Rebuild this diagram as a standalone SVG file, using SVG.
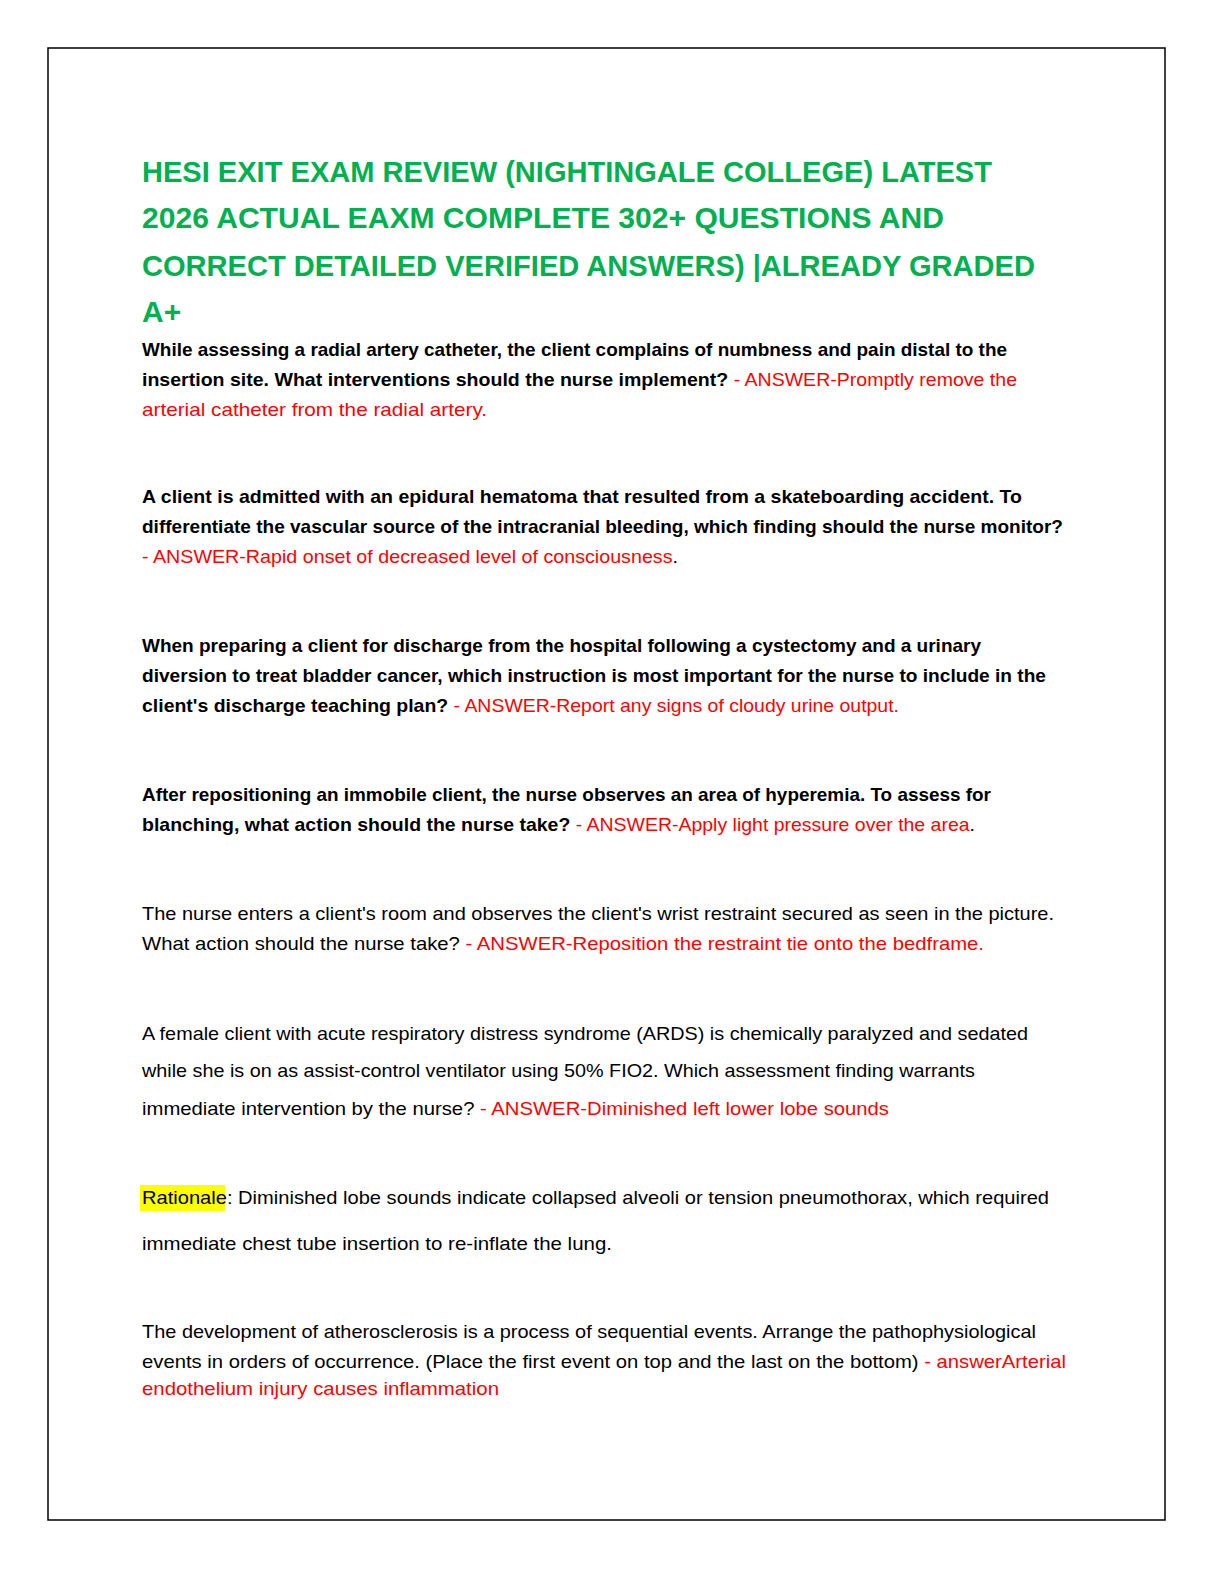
<svg xmlns="http://www.w3.org/2000/svg" width="1224" height="1584" viewBox="0 0 1224 1584">
<style>
text{font-family:"Liberation Sans","Noto Sans",sans-serif;font-size:19px;fill:#000}
.t{font-size:30px;font-weight:bold;fill:#00B050}
.b{font-weight:bold}
.r{fill:#FF0000;font-weight:normal}
.k{fill:#000;font-weight:normal}
</style>
<rect width="1224" height="1584" fill="#fff"/>
<rect x="48" y="48" width="1117" height="1472" fill="none" stroke="#000" stroke-width="1.5"/>
<text class="t" x="142" y="182" textLength="850" lengthAdjust="spacingAndGlyphs">HESI EXIT EXAM REVIEW (NIGHTINGALE COLLEGE) LATEST</text>
<text class="t" x="142" y="228" textLength="802" lengthAdjust="spacingAndGlyphs">2026 ACTUAL EAXM COMPLETE 302+ QUESTIONS AND</text>
<text class="t" x="142" y="276" textLength="893" lengthAdjust="spacingAndGlyphs">CORRECT DETAILED VERIFIED ANSWERS) |ALREADY GRADED</text>
<text class="t" x="142" y="322">A+</text>

<text class="b" x="142" y="356" textLength="865" lengthAdjust="spacingAndGlyphs">While assessing a radial artery catheter, the client complains of numbness and pain distal to the</text>
<text class="b" x="142" y="386" textLength="875" lengthAdjust="spacingAndGlyphs">insertion site. What interventions should the nurse implement?<tspan class="r"> - ANSWER-Promptly remove the</tspan></text>
<text class="r" x="142" y="416" textLength="345" lengthAdjust="spacingAndGlyphs">arterial catheter from the radial artery.</text>

<text class="b" x="142" y="503" textLength="880" lengthAdjust="spacingAndGlyphs">A client is admitted with an epidural hematoma that resulted from a skateboarding accident. To</text>
<text class="b" x="142" y="533" textLength="921" lengthAdjust="spacingAndGlyphs">differentiate the vascular source of the intracranial bleeding, which finding should the nurse monitor?</text>
<text class="r" x="142" y="563" textLength="536" lengthAdjust="spacingAndGlyphs">- ANSWER-Rapid onset of decreased level of consciousness<tspan class="k">.</tspan></text>

<text class="b" x="142" y="652" textLength="839" lengthAdjust="spacingAndGlyphs">When preparing a client for discharge from the hospital following a cystectomy and a urinary</text>
<text class="b" x="142" y="682" textLength="904" lengthAdjust="spacingAndGlyphs">diversion to treat bladder cancer, which instruction is most important for the nurse to include in the</text>
<text class="b" x="142" y="712" textLength="757" lengthAdjust="spacingAndGlyphs">client's discharge teaching plan?<tspan class="r"> - ANSWER-Report any signs of cloudy urine output.</tspan></text>

<text class="b" x="142" y="801" textLength="849" lengthAdjust="spacingAndGlyphs">After repositioning an immobile client, the nurse observes an area of hyperemia. To assess for</text>
<text class="b" x="142" y="831" textLength="833" lengthAdjust="spacingAndGlyphs">blanching, what action should the nurse take?<tspan class="r"> - ANSWER-Apply light pressure over the area</tspan><tspan class="k">.</tspan></text>

<text x="142" y="920" textLength="912" lengthAdjust="spacingAndGlyphs">The nurse enters a client's room and observes the client's wrist restraint secured as seen in the picture.</text>
<text x="142" y="950" textLength="842" lengthAdjust="spacingAndGlyphs">What action should the nurse take?<tspan class="r"> - ANSWER-Reposition the restraint tie onto the bedframe.</tspan></text>

<text x="142" y="1040" textLength="886" lengthAdjust="spacingAndGlyphs">A female client with acute respiratory distress syndrome (ARDS) is chemically paralyzed and sedated</text>
<text x="142" y="1077" textLength="833" lengthAdjust="spacingAndGlyphs">while she is on as assist-control ventilator using 50% FIO2. Which assessment finding warrants</text>
<text x="142" y="1115" textLength="747" lengthAdjust="spacingAndGlyphs">immediate intervention by the nurse?<tspan class="r"> - ANSWER-Diminished left lower lobe sounds</tspan></text>

<rect x="140" y="1185" width="85" height="26" fill="#FFFF00"/>
<text x="142" y="1204" textLength="907" lengthAdjust="spacingAndGlyphs">Rationale: Diminished lobe sounds indicate collapsed alveoli or tension pneumothorax, which required</text>
<text x="142" y="1250" textLength="470" lengthAdjust="spacingAndGlyphs">immediate chest tube insertion to re-inflate the lung.</text>

<text x="142" y="1338" textLength="894" lengthAdjust="spacingAndGlyphs">The development of atherosclerosis is a process of sequential events. Arrange the pathophysiological</text>
<text x="142" y="1368" textLength="924" lengthAdjust="spacingAndGlyphs">events in orders of occurrence. (Place the first event on top and the last on the bottom)<tspan class="r"> - answerArterial</tspan></text>
<text class="r" x="142" y="1395" textLength="357" lengthAdjust="spacingAndGlyphs">endothelium injury causes inflammation</text>
</svg>
